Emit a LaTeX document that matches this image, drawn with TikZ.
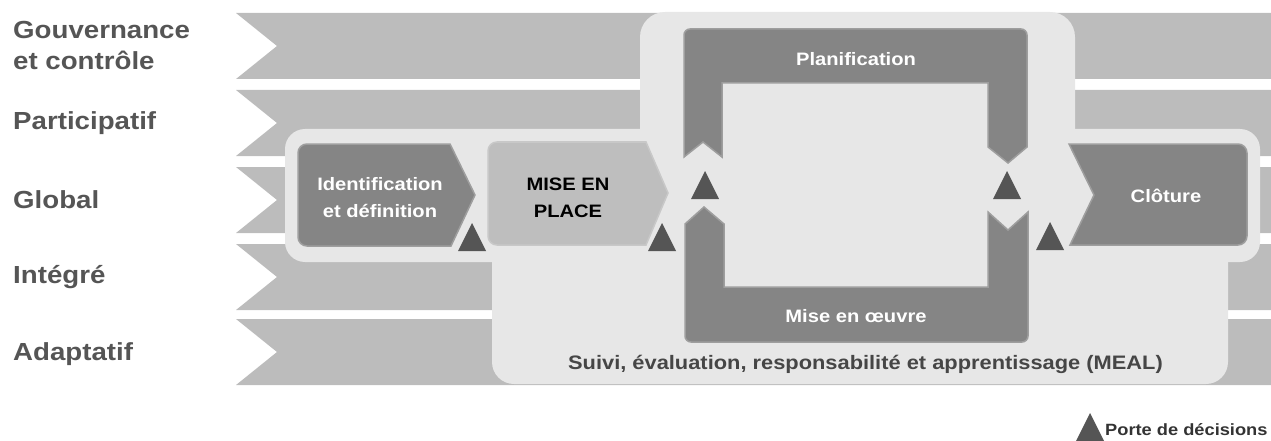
\documentclass[tikz,border=0pt]{standalone}
\usepackage{fontspec}
\setmainfont{Liberation Sans}[FakeStretch=1.12]
\definecolor{bandc}{RGB}{188,188,188}
\definecolor{lightc}{RGB}{231,231,231}
\definecolor{darkc}{RGB}{133,133,133}
\definecolor{darkedge}{RGB}{158,158,158}
\definecolor{midc}{RGB}{190,190,190}
\definecolor{midedge}{RGB}{200,200,200}
\definecolor{gatec}{RGB}{85,85,85}
\definecolor{labelc}{RGB}{85,85,85}
\definecolor{mealc}{RGB}{70,70,70}
\definecolor{legc}{RGB}{51,51,51}
\begin{document}
\begin{tikzpicture}[x=1pt,y=-1pt,
  bandfill/.style={fill=bandc},
  lightbg/.style={fill=lightc},
  darkbox/.style={fill=darkc,draw=darkedge,line width=1.5pt},
  midbox/.style={fill=midc,draw=midedge,line width=1.5pt},
  sidelbl/.style={font=\bfseries\fontsize{24.7}{30}\selectfont,text=labelc,anchor=base west,inner sep=0pt},
  boxtxt/.style={font=\bfseries\fontsize{18}{22}\selectfont,text=white,anchor=base,inner sep=0pt},
  gate/.pic={\fill[gatec] (0,0) -- (14,28) -- (-14,28) -- cycle;}]
\useasboundingbox (0,0) rectangle (1271,441);
% bands
\foreach \t/\b in {13/79,90/156,167/233,244/310,319/385}{
  \fill[bandfill] (236,\t) -- (1271,\t) -- (1271,\b) -- (236,\b) -- (277,{(\t+\b)/2}) -- cycle;
}
% light background
\fill[lightbg,rounded corners=25pt] (640,12) rectangle (1075,200);
\fill[lightbg,rounded corners=22pt] (492,200) rectangle (1228,384);
\fill[lightbg,rounded corners=20pt] (285,129) rectangle (1260,262);
% side labels
\node[sidelbl] (l1a) at (13,39) {Gouvernance};
\node[sidelbl] (l1b) at (13,70) {et contrôle};
\node[sidelbl] (l2) at (13,129) {Participatif};
\node[sidelbl] (l3) at (13,208) {Global};
\node[sidelbl] (l4) at (13,283) {Intégré};
\node[sidelbl] (l5) at (13,360) {Adaptatif};
% Identification
\filldraw[darkbox] (475,195) -- (450,144) -- (380,144) [rounded corners=9pt] -- (298,144) -- (298,246) -- (380,246) [sharp corners] -- (451,246) -- cycle;
\node[boxtxt] (ida) at (380,190) {Identification};
\node[boxtxt] (idb) at (380,217) {et définition};
% Mise en place
\filldraw[midbox] (668,193) -- (646,142) -- (560,142) [rounded corners=9pt] -- (488,142) -- (488,245) -- (560,245) [sharp corners] -- (646,245) -- cycle;
\node[boxtxt,text=black] (mpa) at (568,190) {MISE EN};
\node[boxtxt,text=black] (mpb) at (568,217) {PLACE};
% Planification
\filldraw[darkbox] (856,29) [rounded corners=6pt] -- (1027,29) -- (1027,90) [sharp corners] -- (1027,147) -- (1008,163) -- (988,147) -- (988,83) -- (722,83) -- (722,157) -- (703,142) -- (684,157) -- (684,90) [rounded corners=6pt] -- (684,29) -- cycle;
\node[boxtxt] (plan) at (856,66) {Planification};
% Mise en oeuvre
\filldraw[darkbox] (856,342) [rounded corners=6pt] -- (685,342) -- (685,300) [sharp corners] -- (685,224) -- (704,207) -- (724,224) -- (724,287) -- (988,287) -- (988,212) -- (1008,230) -- (1028,212) -- (1028,300) [rounded corners=6pt] -- (1028,342) -- cycle;
\node[boxtxt] (moe) at (856,322) {Mise en œuvre};
% Cloture
\filldraw[darkbox] (1094,195) -- (1069,144) -- (1160,144) [rounded corners=9pt] -- (1247,144) -- (1247,245) -- (1160,245) [sharp corners] -- (1070,245) -- cycle;
\node[boxtxt] (clo) at (1166,202) {Clôture};
% MEAL
\node[font=\bfseries\fontsize{19.5}{24}\selectfont,text=mealc,anchor=base,inner sep=0pt] (meal) at (865.5,369) {Suivi, évaluation, responsabilité et apprentissage (MEAL)};
% gates
\pic at (472,223) {gate};
\pic at (662,223) {gate};
\pic at (705,171) {gate};
\pic at (1007,171) {gate};
\pic at (1050,222) {gate};
% legend
\pic at (1090,413) {gate};
\node[font=\bfseries\fontsize{16.3}{20}\selectfont,text=legc,anchor=base west,inner sep=0pt] (leg) at (1105,435) {Porte de décisions};
\end{tikzpicture}
\end{document}
